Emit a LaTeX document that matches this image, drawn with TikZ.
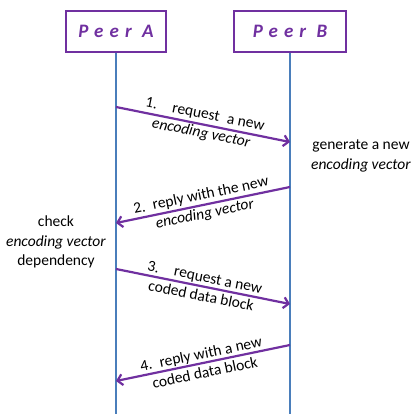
\documentclass[tikz,border=0pt]{standalone}
\usepackage{fontspec}
\setmainfont{Carlito}
\newfontfamily\peerfont[LetterSpace=32]{Carlito}
\usetikzlibrary{arrows.meta}
\definecolor{peerpurple}{HTML}{7030A0}
\definecolor{lifeblue}{HTML}{4A7EBB}

\begin{document}
\begin{tikzpicture}[x=1pt,y=-1pt,>={Straight Barb[length=5pt,width=11pt]},
    peer/.style={rectangle,draw=peerpurple,line width=2pt,minimum height=41pt,text=peerpurple,font=\peerfont\bfseries\itshape\fontsize{19}{21}\selectfont},
    life/.style={draw=lifeblue,line width=2pt},
    msg/.style={->,draw=peerpurple,line width=2.2pt},
    lbl/.style={sloped,midway,align=center,inner sep=1pt,font=\fontsize{15.5}{19}\selectfont},
    note/.style={align=center,font=\fontsize{15.5}{19.5}\selectfont}]
    \useasboundingbox (0,0) rectangle (414,414);

    \node [peer, minimum width=100pt] (pa) at (116,31.5) {Peer A};
    \node [peer, minimum width=112pt] (pb) at (290,31.5) {Peer B};

    % lifelines
    \coordinate (aend) at (pa.south |- 0,414);
    \coordinate (bend) at (pb.south |- 0,414);
    \draw [life] (pa.south) -- (aend);
    \draw [life] (pb.south) -- (bend);

    % message ends
    \coordinate (a1) at (pa.south |- 0,107);
    \coordinate (b1) at (pb.south |- 0,142);
    \coordinate (b2) at (pb.south |- 0,187);
    \coordinate (a2) at (pa.south |- 0,223);
    \coordinate (a3) at (pa.south |- 0,269);
    \coordinate (b3) at (pb.south |- 0,304);
    \coordinate (b4) at (pb.south |- 0,345);
    \coordinate (a4) at (pa.south |- 0,381);

    \draw [msg] (a1) -- node [lbl] {1.\quad request\enspace a new\\\textit{encoding vector}} (b1);
    \draw [msg] (b2) -- node [lbl] {2.\enspace reply with the new\\\textit{encoding vector}} (a2);
    \draw [msg] (a3) -- node [lbl] {3.\quad request a new\\coded data block} (b3);
    \draw [msg] (b4) -- node [lbl] {4.\enspace reply with a new\\coded data block} (a4);

    \node [note] (gen) at (361,156) {generate a new\\\textit{encoding vector}};
    \node [note] (chk) at (56,242) {check\\\textit{encoding vector}\\dependency};
\end{tikzpicture}
\end{document}
